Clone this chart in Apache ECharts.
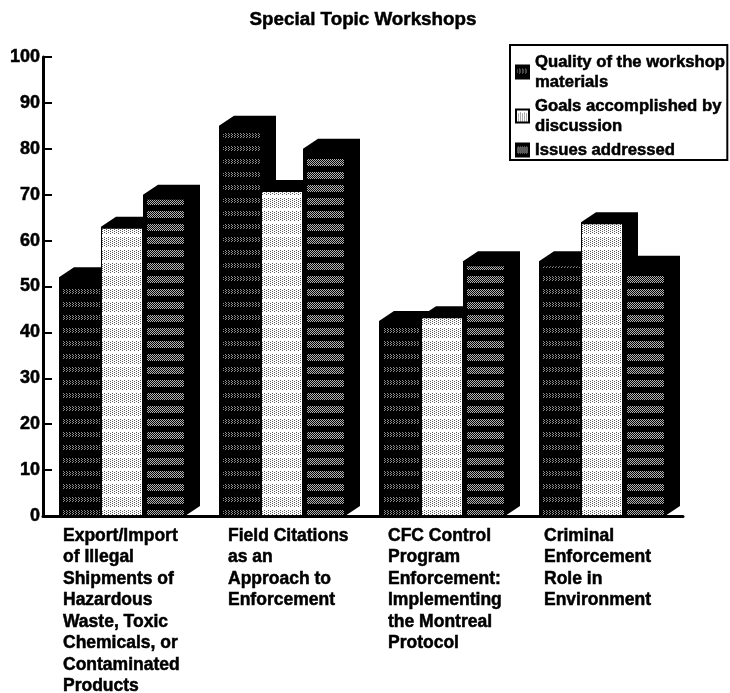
<!DOCTYPE html>
<html>
<head>
<meta charset="utf-8">
<title>Special Topic Workshops</title>
<script src="https://cdn.jsdelivr.net/npm/echarts@6/dist/echarts.min.js"></script>
<style>
  html, body { margin: 0; padding: 0; background: #fff; }
  #chart { width: 730px; height: 693px; }
</style>
</head>
<body>
<div id="chart"></div>
<script>
const categories = [
  'Export/Import\nof Illegal\nShipments of\nHazardous\nWaste, Toxic\nChemicals, or\nContaminated\nProducts',
  'Field Citations\nas an\nApproach to\nEnforcement',
  'CFC Control\nProgram\nEnforcement:\nImplementing\nthe Montreal\nProtocol',
  'Criminal\nEnforcement\nRole in\nEnvironment'
]
const seriesNames = ['Quality of the workshop\nmaterials', 'Goals accomplished by\ndiscussion', 'Issues addressed']
const quality = [52, 85, 42.5, 55.5]
const goals = [63, 71, 43.5, 64]
const issues = [70, 80, 55.5, 54.5]

const BAR_W = 42
const DEPTH_X = 15
const DEPTH_Y = 10
const FONT = '"Liberation Sans", Arial, sans-serif'
// thick text, the scan has blurred everything a bit
const heavy = { fontFamily: FONT, fontWeight: 'bold', color: '#000', textBorderColor: '#000', textBorderWidth: 0.5 }

// halftone fills, the original is a photocopied print
function makePattern(bg, dot, bandH, period, step) {
  const c = document.createElement('canvas')
  c.width = 24
  c.height = period
  const ctx = c.getContext('2d')
  ctx.fillStyle = bg
  ctx.fillRect(0, 0, c.width, c.height)
  ctx.fillStyle = dot
  for (let y = 0; y < bandH; y++) {
    for (let x = (y % 2) * (step >> 1); x < c.width; x += step) {
      ctx.fillRect(x, y + 3, 1, 1)
    }
  }
  return c
}

const darkFill = { image: makePattern('#000', '#8c8c8c', 5, 13, 3), repeat: 'repeat' }
const lightFill = { image: makePattern('#fff', '#5a5a5a', 13, 13, 4), repeat: 'repeat' }
const midFill = { image: makePattern('#000', '#b4b4b4', 7, 13, 2), repeat: 'repeat' }
const fills = [darkFill, lightFill, midFill]
const insets = [4, 1, 4]

function bar3d(params, api) {
  const s = params.seriesIndex
  const p = api.coord([api.value(0), api.value(1)])
  const base = api.coord([api.value(0), 0])
  const x = p[0] - 1 + (s - 1.5) * BAR_W
  const y = p[1]
  const inset = insets[s]
  return {
    type: 'group',
    children: [
      {
        type: 'polygon',
        shape: { points: [[x, y], [x + DEPTH_X, y - DEPTH_Y], [x + BAR_W + DEPTH_X, y - DEPTH_Y], [x + BAR_W + DEPTH_X, base[1] - DEPTH_Y], [x + BAR_W, base[1]], [x, base[1]]] },
        style: { fill: '#000' }
      },
      {
        type: 'rect',
        shape: { x: x + inset, y: y + 1 + inset, width: BAR_W - inset - 1, height: base[1] - y - 2 - inset },
        style: { fill: fills[s] }
      }
    ]
  }
}

// labels do not start at the same spot in each band of the original
const labelStyles = ['p0', 'p5', 'p5', 'p1']

const chart = echarts.init(document.getElementById('chart'), null, { renderer: 'canvas' })
chart.setOption({
  animation: false,
  title: {
    text: 'Special Topic Workshops',
    left: 358,
    top: 5,
    textAlign: 'center',
    textStyle: Object.assign({}, heavy, { fontSize: 18.8 })
  },
  legend: {
    orient: 'vertical',
    left: 510,
    top: 45,
    padding: [7, 2, 0, 5],
    itemWidth: 13,
    itemHeight: 13,
    itemGap: 4,
    icon: 'rect',
    backgroundColor: '#fff',
    borderColor: '#000',
    borderWidth: 2,
    data: seriesNames,
    textStyle: Object.assign({}, heavy, { fontSize: 16.7, lineHeight: 20, padding: [0, 0, 0, 1] })
  },
  grid: { left: 43, right: 47, top: 57, bottom: 177, outerBoundsMode: 'none' },
  xAxis: {
    type: 'category',
    data: categories,
    axisLine: { lineStyle: { color: '#000', width: 3 } },
    axisTick: { show: false },
    axisLabel: {
      interval: 0,
      margin: 9,
      lineHeight: 21.5,
      formatter: (v, i) => v.split('\n').map(l => '{' + labelStyles[i] + '|' + l + '}').join('\n'),
      rich: {
        p0: Object.assign({}, heavy, { width: 120, align: 'left', fontSize: 17.5, lineHeight: 21.5 }),
        p1: Object.assign({}, heavy, { width: 119, padding: [0, 0, 0, 1], align: 'left', fontSize: 17.5, lineHeight: 21.5 }),
        p5: Object.assign({}, heavy, { width: 115, padding: [0, 0, 0, 5], align: 'left', fontSize: 17.5, lineHeight: 21.5 })
      }
    }
  },
  yAxis: {
    type: 'value',
    min: 0,
    max: 100,
    interval: 10,
    splitLine: { show: false },
    axisLine: { show: true, lineStyle: { color: '#000', width: 3 } },
    axisTick: { show: true, inside: true, length: 9, lineStyle: { color: '#000', width: 2 } },
    axisLabel: Object.assign({}, heavy, { margin: 3, fontSize: 18 })
  },
  series: [quality, goals, issues].map((vals, i) => ({
    type: 'custom',
    name: seriesNames[i],
    renderItem: bar3d,
    clip: false,
    itemStyle: { color: fills[i], borderColor: '#000', borderWidth: 1 },
    encode: { x: 0, y: 1 },
    data: vals.map((v, k) => [k, v])
  }))
})
</script>
</body>
</html>
